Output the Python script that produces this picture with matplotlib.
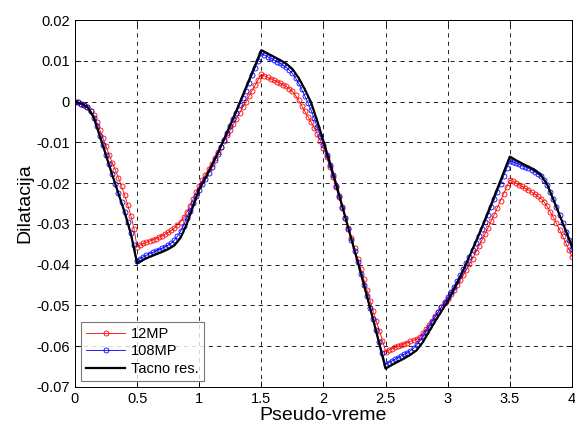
import numpy as np
import matplotlib
matplotlib.use("Agg")
import matplotlib.pyplot as plt
from matplotlib.ticker import FuncFormatter

plt.rcParams['font.family'] = ['Liberation Sans', 'DejaVu Sans']
plt.rcParams['axes.unicode_minus'] = False

# 12MP, sampled every 0.025 of pseudo-time
mp12 = [
    0.0000, -0.0002, -0.0005, -0.0009, -0.0014, -0.0022, -0.0034, -0.0050, -0.0070, -0.0090,
    -0.0110, -0.0130, -0.0150, -0.0168, -0.0187, -0.0208, -0.0230, -0.0254, -0.0280, -0.0312,
    -0.0356, -0.0352, -0.0348, -0.0345, -0.0342, -0.0339, -0.0336, -0.0333, -0.0329, -0.0325,
    -0.0321, -0.0316, -0.0310, -0.0303, -0.0295, -0.0284, -0.0271, -0.0256, -0.0240, -0.0223,
    -0.0207, -0.0193, -0.0179, -0.0166, -0.0152, -0.0138, -0.0124, -0.0111, -0.0097, -0.0083,
    -0.0069, -0.0056, -0.0042, -0.0028, -0.0014, -0.0001, 0.0013, 0.0027, 0.0040, 0.0054,
    0.0067, 0.0063, 0.0059, 0.0056, 0.0052, 0.0049, 0.0045, 0.0041, 0.0037, 0.0032,
    0.0025, 0.0015, 0.0003, -0.0010, -0.0024, -0.0037, -0.0050, -0.0064, -0.0079, -0.0096,
    -0.0113, -0.0136, -0.0160, -0.0185, -0.0210, -0.0235, -0.0260, -0.0285, -0.0310, -0.0335,
    -0.0360, -0.0385, -0.0410, -0.0436, -0.0462, -0.0488, -0.0514, -0.0538, -0.0562, -0.0586,
    -0.0613, -0.0609, -0.0606, -0.0603, -0.0600, -0.0597, -0.0594, -0.0591, -0.0588, -0.0585,
    -0.0583, -0.0577, -0.0568, -0.0558, -0.0548, -0.0537, -0.0526, -0.0515, -0.0504, -0.0494,
    -0.0484, -0.0473, -0.0462, -0.0450, -0.0438, -0.0425, -0.0412, -0.0399, -0.0385, -0.0370,
    -0.0355, -0.0340, -0.0325, -0.0309, -0.0293, -0.0277, -0.0260, -0.0243, -0.0226, -0.0209,
    -0.0192, -0.0196, -0.0200, -0.0204, -0.0208, -0.0213, -0.0217, -0.0222, -0.0227, -0.0232,
    -0.0238, -0.0246, -0.0257, -0.0270, -0.0284, -0.0299, -0.0314, -0.0330, -0.0346, -0.0363,
    -0.0380,
]

# 108MP, sampled every 0.025 of pseudo-time
mp108 = [
    0.0000, -0.0002, -0.0005, -0.0009, -0.0014, -0.0024, -0.0040, -0.0061, -0.0084, -0.0107,
    -0.0131, -0.0154, -0.0178, -0.0201, -0.0224, -0.0247, -0.0270, -0.0295, -0.0322, -0.0353,
    -0.0390, -0.0385, -0.0381, -0.0377, -0.0373, -0.0370, -0.0367, -0.0363, -0.0360, -0.0356,
    -0.0352, -0.0347, -0.0340, -0.0330, -0.0318, -0.0304, -0.0285, -0.0268, -0.0250, -0.0232,
    -0.0216, -0.0203, -0.0189, -0.0175, -0.0160, -0.0144, -0.0128, -0.0112, -0.0095, -0.0078,
    -0.0061, -0.0044, -0.0027, -0.0009, 0.0009, 0.0027, 0.0046, 0.0064, 0.0082, 0.0100,
    0.0118, 0.0114, 0.0110, 0.0106, 0.0102, 0.0098, 0.0094, 0.0089, 0.0084, 0.0077,
    0.0069, 0.0058, 0.0045, 0.0030, 0.0014, -0.0003, -0.0021, -0.0041, -0.0062, -0.0084,
    -0.0106, -0.0130, -0.0155, -0.0180, -0.0206, -0.0232, -0.0259, -0.0286, -0.0313, -0.0340,
    -0.0367, -0.0394, -0.0422, -0.0450, -0.0478, -0.0506, -0.0534, -0.0561, -0.0589, -0.0617,
    -0.0645, -0.0640, -0.0636, -0.0632, -0.0628, -0.0624, -0.0620, -0.0616, -0.0611, -0.0605,
    -0.0597, -0.0587, -0.0576, -0.0564, -0.0552, -0.0540, -0.0528, -0.0516, -0.0504, -0.0492,
    -0.0480, -0.0467, -0.0454, -0.0440, -0.0426, -0.0411, -0.0396, -0.0380, -0.0364, -0.0347,
    -0.0330, -0.0313, -0.0295, -0.0277, -0.0259, -0.0240, -0.0221, -0.0202, -0.0183, -0.0164,
    -0.0145, -0.0148, -0.0151, -0.0154, -0.0157, -0.0160, -0.0164, -0.0168, -0.0172, -0.0177,
    -0.0183, -0.0192, -0.0205, -0.0222, -0.0240, -0.0259, -0.0278, -0.0298, -0.0319, -0.0340,
    -0.0362,
]

# exact solution, sampled every 0.05
tacno = [
    0.0000, -0.0005, -0.0013, -0.0038, -0.0085, -0.0132, -0.0180, -0.0226, -0.0272, -0.0325,
    -0.0397, -0.0388, -0.0381, -0.0375, -0.0369, -0.0362, -0.0353, -0.0334, -0.0300, -0.0258,
    -0.0215, -0.0188, -0.0158, -0.0126, -0.0092, -0.0057, -0.0022, 0.0015, 0.0052, 0.0089,
    0.0126, 0.0118, 0.0110, 0.0102, 0.0093, 0.0080, 0.0058, 0.0030, -0.0002, -0.0048,
    -0.0097, -0.0148, -0.0200, -0.0255, -0.0310, -0.0365, -0.0420, -0.0477, -0.0535, -0.0595,
    -0.0655, -0.0646, -0.0638, -0.0630, -0.0621, -0.0610, -0.0590, -0.0564, -0.0538, -0.0514,
    -0.0490, -0.0461, -0.0430, -0.0397, -0.0362, -0.0327, -0.0290, -0.0252, -0.0213, -0.0174,
    -0.0135, -0.0144, -0.0152, -0.0160, -0.0168, -0.0180, -0.0203, -0.0240, -0.0278, -0.0316,
    -0.0355,
]

t_fine = np.linspace(0, 4, len(mp12))
t_coarse = np.linspace(0, 4, len(tacno))

fig = plt.figure(figsize=(5.75, 4.32), dpi=100)
ax = fig.add_axes([0.1304, 0.1042, 0.8643, 0.8495])

ax.plot(t_fine, mp12, color='red', lw=0.6, marker='o', ms=3.6,
        mfc='none', mew=0.6, label='12MP')
ax.plot(t_fine, mp108, color='blue', lw=0.6, marker='o', ms=3.6,
        mfc='none', mew=0.6, label='108MP')
ax.plot(t_coarse, tacno, color='black', lw=1.6, label='Tacno res.')

ax.set_xlim(0, 4)
ax.set_ylim(-0.07, 0.02)
ax.set_xticks(np.arange(0, 4.01, 0.5))
ax.set_yticks(np.arange(-0.07, 0.0201, 0.01))
fmt = FuncFormatter(lambda v, p: '%g' % round(v, 4))
ax.xaxis.set_major_formatter(fmt)
ax.yaxis.set_major_formatter(fmt)
ax.tick_params(direction='in', top=True, right=True, labelsize=10.5, length=4, width=0.6)
ax.grid(True, color='black', ls=(0, (5, 5)), lw=0.6)
for s in ax.spines.values():
    s.set_linewidth(0.7)

ax.set_xlabel('Pseudo-vreme', fontsize=14, labelpad=1)
ax.set_ylabel('Dilatacija', fontsize=14, labelpad=2)

leg = ax.legend(loc='lower left', numpoints=1, fontsize=10.5, fancybox=False,
                handlelength=2.7, borderaxespad=0.4, labelspacing=0.25,
                handletextpad=0.4, borderpad=0.35)
leg.get_frame().set_edgecolor('#555555')
leg.get_frame().set_linewidth(0.8)

fig.savefig('out.png', dpi=100)
